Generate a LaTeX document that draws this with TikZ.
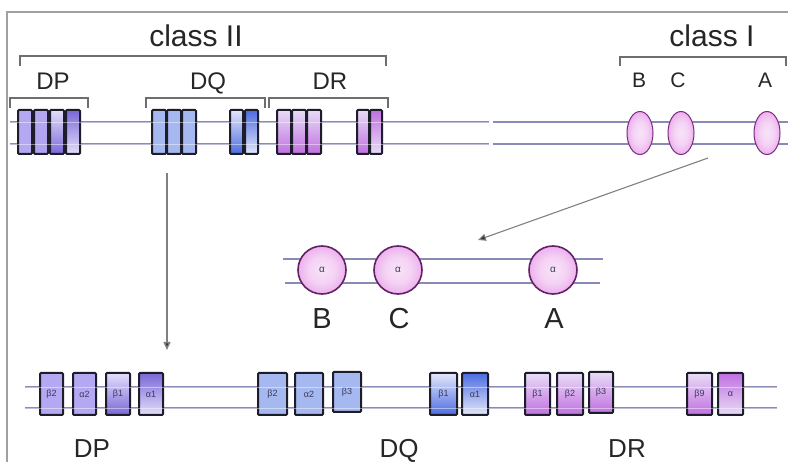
\documentclass[tikz,border=0pt]{standalone}
\usepackage{fontspec}
\setmainfont{Liberation Sans}
\usetikzlibrary{arrows.meta,shapes.geometric}
\definecolor{chromc}{HTML}{8A8AB8}
\definecolor{boxc}{HTML}{1C1C2A}
\definecolor{brkc}{HTML}{6E6E6E}
\definecolor{framec}{HTML}{A0A0A0}
\definecolor{arrc}{HTML}{808080}
\definecolor{lblc}{HTML}{3A3A5A}
\definecolor{dpA}{HTML}{B4A8F2}
\definecolor{dpB}{HTML}{7A68D8}
\definecolor{dpL}{HTML}{E4DEFA}
\definecolor{dqA}{HTML}{A6B8F0}
\definecolor{dqB}{HTML}{4C6CE0}
\definecolor{dqL}{HTML}{E4E8FA}
\definecolor{drA}{HTML}{C070E0}
\definecolor{drL}{HTML}{E8DCF6}
\definecolor{pinkL}{HTML}{F8E4F8}
\definecolor{pinkD}{HTML}{DE6AE0}
\definecolor{pinkB}{HTML}{7A2A80}
\pgfdeclareradialshading{pinkball}{\pgfpoint{0bp}{0bp}}{%
  color(0bp)=(pinkL); color(14bp)=(pinkL!85!pinkD); color(30bp)=(pinkL!45!pinkD);
  color(44bp)=(pinkD); color(50bp)=(pinkD!85!black)}
\newcommand\genebox[8]{%
  \node[gene, top color=#6, bottom color=#7, minimum width=#3-#2, minimum height=#5-#4] (#1) at (#2,#4) {};
  \node[glabel] at (#1.center) {#8};}
\begin{document}
\begin{tikzpicture}[x=1pt,y=-1pt,
  chrom/.style={draw=chromc, line width=1.8pt},
  over/.style={draw=white, line width=0.9pt, opacity=0.45},
  gene/.style={draw=boxc, line width=2pt, rounded corners=1pt, inner sep=0pt, outer sep=0pt, anchor=north west},
  glabel/.style={text=lblc, font=\fontsize{9}{9}\selectfont, inner sep=0pt},
  brk/.style={draw=brkc, line width=1.2pt},
  big/.style={anchor=base, inner sep=0pt, text=black!85},
  ovalc/.style={ellipse, draw=pinkB, line width=1pt, shading=pinkball, minimum width=26, minimum height=43, inner sep=0pt},
  circ/.style={circle, draw=pinkB!80!black, line width=1.6pt, shading=pinkball, minimum size=48, inner sep=0pt, font=\fontsize{10}{10}\selectfont, text=lblc},
  arr/.style={draw=arrc, line width=1.4pt, -{Triangle[length=8pt,width=7pt,fill=black!80]}}
]
\useasboundingbox (0,0) rectangle (788,462);
% frame
\draw[framec, line width=1.6pt] (7,462) -- (7,12) -- (788,12);

% titles
\node[big, font=\fontsize{30}{30}\selectfont] (t2) at (196,47) {class II};
\node[big, font=\fontsize{30}{30}\selectfont] (t1) at (712,47) {class I};

% brackets
\draw[brk] (20,66) -- (20,56) -- (386,56) -- (386,66);
\draw[brk] (620,66) -- (620,57) -- (786,57) -- (786,66);
\draw[brk] (10,108) -- (10,98) -- (88,98) -- (88,108);
\draw[brk] (146,108) -- (146,98) -- (265,98) -- (265,108);
\draw[brk] (269,108) -- (269,98) -- (388,98) -- (388,108);

\node[big, font=\fontsize{24}{24}\selectfont] (lDP) at (53,90) {DP};
\node[big, font=\fontsize{24}{24}\selectfont] (lDQ) at (208,90) {DQ};
\node[big, font=\fontsize{24}{24}\selectfont] (lDR) at (330,90) {DR};
\node[big, font=\fontsize{21}{21}\selectfont] (lB) at (639,88) {B};
\node[big, font=\fontsize{21}{21}\selectfont] (lC) at (678,88) {C};
\node[big, font=\fontsize{21}{21}\selectfont] (lA) at (765,88) {A};

% top chromosome
\coordinate (ta1) at (10,122); \coordinate (ta2) at (489,122);
\coordinate (tb1) at (10,144); \coordinate (tb2) at (489,144);
\coordinate (tc1) at (493,122); \coordinate (tc2) at (788,122);
\coordinate (td1) at (493,144); \coordinate (td2) at (788,144);
\draw[chrom] (ta1) -- (ta2); \draw[chrom] (tb1) -- (tb2);
\draw[chrom] (tc1) -- (tc2); \draw[chrom] (td1) -- (td2);

% top class II genes
\genebox{p1}{18}{32}{110}{154}{dpA}{dpA}{}
\genebox{p2}{34}{48}{110}{154}{dpA}{dpA!90!dpB}{}
\genebox{p3}{50}{64}{110}{154}{dpL}{dpB}{}
\genebox{p4}{66}{80}{110}{154}{dpB}{dpL}{}
\genebox{q1}{152}{166}{110}{154}{dqA}{dqA}{}
\genebox{q2}{167}{181}{110}{154}{dqA}{dqA}{}
\genebox{q3}{182}{196}{110}{154}{dqA}{dqA}{}
\genebox{q4}{230}{243}{110}{154}{dqL}{dqB}{}
\genebox{q5}{245}{258}{110}{154}{dqB}{dqL}{}
\genebox{r1}{277}{291}{110}{154}{drL}{drA}{}
\genebox{r2}{292}{306}{110}{154}{drL}{drA}{}
\genebox{r3}{307}{321}{110}{154}{drL}{drA}{}
\genebox{r4}{357}{369}{110}{154}{drL}{drA}{}
\genebox{r5}{370}{382}{110}{154}{drA}{drL}{}
\draw[over] (ta1) -- (ta2); \draw[over] (tb1) -- (tb2);

% top class I genes
\node[ovalc] (oB) at (640,133) {};
\node[ovalc] (oC) at (681,133) {};
\node[ovalc] (oA) at (767,133) {};

% arrows
\coordinate (v1) at (167,173); \coordinate (v2) at (167,350);
\draw[arr] (v1) -- (v2);
\coordinate (d1) at (708,158); \coordinate (d2) at (478,240);
\draw[arr, line width=1.1pt] (d1) -- (d2);

% middle chromosome
\coordinate (ma1) at (283,259); \coordinate (ma2) at (603,259);
\coordinate (mb1) at (285,283); \coordinate (mb2) at (600,283);
\draw[chrom] (ma1) -- (ma2); \draw[chrom] (mb1) -- (mb2);
\node[circ] (cB) at (322,270) {α};
\node[circ] (cC) at (398,270) {α};
\node[circ] (cA) at (553,270) {α};
\node[big, font=\fontsize{29}{29}\selectfont] (mB) at (322,329) {B};
\node[big, font=\fontsize{29}{29}\selectfont] (mC) at (399,329) {C};
\node[big, font=\fontsize{29}{29}\selectfont] (mA) at (554,329) {A};

% bottom chromosome
\coordinate (ba1) at (25,387); \coordinate (ba2) at (777,387);
\coordinate (bb1) at (25,408); \coordinate (bb2) at (777,408);
\draw[chrom] (ba1) -- (ba2); \draw[chrom] (bb1) -- (bb2);

\genebox{bp1}{40}{63}{373}{415}{dpA}{dpA}{β2}
\genebox{bp2}{73}{96}{373}{415}{dpA}{dpA}{α2}
\genebox{bp3}{106}{130}{373}{415}{dpL}{dpB}{β1}
\genebox{bp4}{139}{163}{373}{415}{dpB}{dpL}{α1}
\genebox{bq1}{258}{287}{373}{415}{dqA}{dqA}{β2}
\genebox{bq2}{295}{323}{373}{415}{dqA}{dqA}{α2}
\genebox{bq3}{333}{361}{372}{412}{dqA}{dqA}{β3}
\genebox{bq4}{430}{457}{373}{415}{dqL}{dqB}{β1}
\genebox{bq5}{462}{488}{373}{415}{dqB}{dqL}{α1}
\genebox{br1}{525}{550}{373}{415}{drL}{drA}{β1}
\genebox{br2}{557}{583}{373}{415}{drL}{drA}{β2}
\genebox{br3}{589}{613}{372}{413}{drL}{drA}{β3}
\genebox{br4}{687}{712}{373}{415}{drL}{drA}{β9}
\genebox{br5}{718}{743}{373}{415}{drA}{drL}{α}
\draw[over] (ba1) -- (ba2); \draw[over] (bb1) -- (bb2);

\node[big, font=\fontsize{26}{26}\selectfont] (bDP) at (92,457) {DP};
\node[big, font=\fontsize{26}{26}\selectfont] (bDQ) at (399,457) {DQ};
\node[big, font=\fontsize{26}{26}\selectfont] (bDR) at (627,457) {DR};
\end{tikzpicture}
\end{document}
